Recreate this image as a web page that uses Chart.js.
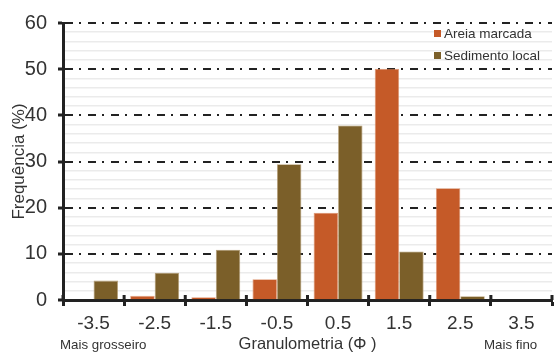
<!DOCTYPE html>
<html>
<head>
<meta charset="utf-8">
<script src="https://cdn.jsdelivr.net/npm/chart.js@4.4.0/dist/chart.umd.min.js"></script>
<style>
  body { margin: 0; background: #fff; font-family: "Liberation Sans", Arial, sans-serif; }
  #wrap { position: relative; width: 555px; height: 356px; }
  .note { position: absolute; color: #333; font-size: 13.3px; white-space: nowrap; }
  #legend { position: absolute; left: 434px; top: 25px; font-size: 13.5px; color: #333; }
  #legend div { height: 22px; line-height: 18px; white-space: nowrap; }
  #legend span.box { display: inline-block; width: 7px; height: 7px; margin-right: 3px; vertical-align: 1px; }
</style>
</head>
<body>
<div id="wrap">
  <canvas id="chart" width="555" height="356"></canvas>
  <div id="legend"></div>
  <div class="note" style="left:60px; top:337px;">Mais grosseiro</div>
  <div class="note" style="left:484px; top:337px;">Mais fino</div>
</div>
<script>
// Granulometry classes (phi)
const categories = ['-3.5', '-2.5', '-1.5', '-0.5', '0.5', '1.5', '2.5', '3.5'];
// Frequency (%) per class
const areiaMarcada = [0, 0.9, 0.6, 4.5, 18.9, 50.1, 24.2, 0];
const sedimentoLocal = [4.2, 5.9, 10.9, 29.4, 37.8, 10.5, 0.8, 0];
const yTicks = [0, 10, 20, 30, 40, 50, 60];

const seriesLabels = ['Areia marcada', 'Sedimento local'];
const seriesColors = ['#C55A28', '#7B5F29'];
const seriesEdges = ['#E09A78', '#B9A27A'];

const FONT = '"Liberation Sans", Arial, sans-serif';

// Legend inside the plot, top right
document.getElementById('legend').innerHTML = seriesLabels.map((lbl, i) =>
  `<div><span class="box" style="background:${seriesColors[i]};"></span>${lbl}</div>`
).join('');

// x tick marks that also poke a little above the axis line
const crossTicks = {
  id: 'crossTicks',
  afterDraw(chart) {
    const x = chart.scales.x, ctx = chart.ctx;
    ctx.save();
    ctx.strokeStyle = '#222';
    ctx.lineWidth = 3;
    for (let i = 0; i <= categories.length; i++) {
      const px = x.getPixelForValue(i - 0.5);
      ctx.beginPath();
      ctx.moveTo(px, x.top - 5);
      ctx.lineTo(px, x.top);
      ctx.stroke();
    }
    ctx.restore();
  }
};

new Chart(document.getElementById('chart').getContext('2d'), {
  type: 'bar',
  data: {
    labels: categories,
    datasets: [
      { label: seriesLabels[0], data: areiaMarcada, backgroundColor: seriesColors[0], borderColor: seriesEdges[0], borderWidth: 0.8 },
      { label: seriesLabels[1], data: sedimentoLocal, backgroundColor: seriesColors[1], borderColor: seriesEdges[1], borderWidth: 0.8 }
    ]
  },
  options: {
    responsive: false,
    animation: false,
    layout: { padding: { top: 22, right: 3, left: 0, bottom: 0 } },
    datasets: { bar: { barPercentage: 1, categoryPercentage: 0.8 } },
    plugins: { legend: { display: false }, tooltip: { enabled: false } },
    scales: {
      x: {
        grid: { drawOnChartArea: false, drawTicks: true, tickLength: 6, tickColor: '#222', tickWidth: 3, offset: true },
        border: { color: '#222', width: 3 },
        ticks: { color: '#333', font: { family: FONT, size: 19 }, padding: 6 },
        title: { display: true, text: 'Granulometria (Φ )', color: '#333', font: { family: FONT, size: 16.5, lineHeight: 1 }, padding: { top: 0, bottom: 3 } },
        afterFit: s => { s.height = 56; }
      },
      yMinor: {
        position: 'left',
        min: 0, max: 60,
        z: -1,
        ticks: { display: false, stepSize: 2 },
        border: { display: false },
        grid: { drawTicks: false, color: c => (c.tick && c.tick.value % 10 === 0) ? 'rgba(0,0,0,0)' : '#EBEBEB', lineWidth: 1.5 },
        afterFit: s => { s.width = 0; }
      },
      y: {
        position: 'left',
        min: 0, max: 60,
        afterBuildTicks: s => { s.ticks = yTicks.map(v => ({ value: v })); },
        grid: {
          color: '#222', lineWidth: 2,
          tickColor: '#222', tickWidth: 3, tickLength: 5, tickBorderDash: []
        },
        border: { color: '#222', width: 3, dash: [8, 6, 2, 7] },
        ticks: { color: '#333', font: { family: FONT, size: 20 }, padding: 11 },
        title: { display: true, text: 'Frequência (%)', color: '#333', font: { family: FONT, size: 17, lineHeight: 1 }, padding: { top: 11, bottom: 0 } },
        afterFit: s => { s.width = 63; }
      }
    }
  },
  plugins: [crossTicks]
});
</script>
</body>
</html>
